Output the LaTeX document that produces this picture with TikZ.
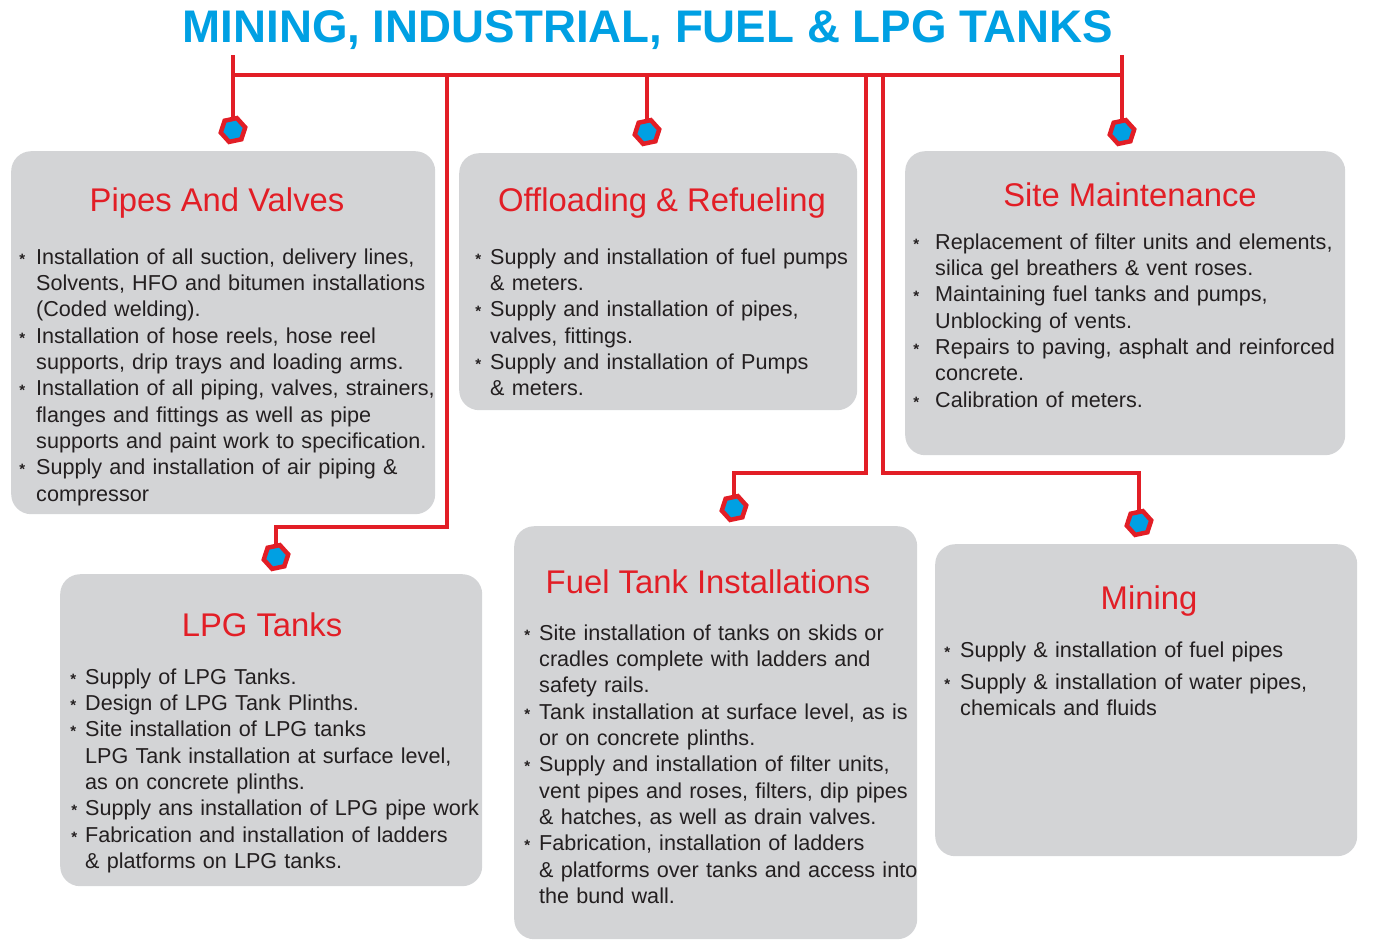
\documentclass[tikz,border=0pt]{standalone}
\usepackage{fontspec}
\setmainfont{Liberation Sans}
\usetikzlibrary{shapes.geometric}
\definecolor{tred}{RGB}{226,30,38}
\definecolor{tblue}{RGB}{0,160,227}
\definecolor{boxgray}{RGB}{211,212,214}
\definecolor{txt}{RGB}{35,31,32}
\newcommand\bul{{\fontsize{15}{15}\selectfont\bfseries *}}
\newcommand\itm[2]{\par\noindent\llap{\bul\hspace{#1}}#2}
\begin{document}
\begin{tikzpicture}[x=1pt,y=-1pt,
  card/.style={fill=boxgray, draw=none, rounded corners=20pt, inner sep=0pt, anchor=north west},
  hd/.style={text=tred, font=\fontsize{32.8}{38}\selectfont, anchor=base, inner sep=0pt},
  body/.style={text=txt, font=\fontsize{21.6}{26.3}\selectfont, text width=480pt, align=left, anchor=base west, inner sep=0pt},
  wire/.style={draw=tred, line width=4pt},
  hexmark/.style={regular polygon, regular polygon sides=6, minimum size=25pt, inner sep=0pt, outer sep=0pt, draw=tred, line width=4.5pt, fill=tblue, rotate=12}]
\useasboundingbox (0,0) rectangle (1377,940);

% title
\node[font=\fontsize{45.7}{50}\selectfont\bfseries, text=tblue, anchor=base, inner sep=0pt] (title) at (648,42) {MINING, INDUSTRIAL, FUEL \& LPG TANKS};

% cards
\node[card, minimum width=424pt, minimum height=363pt] (b1) at (11,151) {};
\node[card, minimum width=398pt, minimum height=257pt] (b2) at (459,153) {};
\node[card, minimum width=440pt, minimum height=304pt] (b3) at (905,151) {};
\node[card, minimum width=422pt, minimum height=312pt] (b4) at (60,574) {};
\node[card, minimum width=403pt, minimum height=413pt] (b5) at (514,526) {};
\node[card, minimum width=422pt, minimum height=312pt] (b6) at (935,544) {};

% connectors
\coordinate (l1) at (233,55);
\coordinate (r1) at (1122,55);
\coordinate (busL) at (233,75);
\coordinate (busR) at (1122,75);
\coordinate (v2) at (647,75);
\coordinate (v4) at (447,75);
\coordinate (v5) at (866,75);
\coordinate (v6) at (883,75);
\coordinate (m1) at (233,130);
\coordinate (m2) at (647,132);
\coordinate (m3) at (1122,132);
\coordinate (m4) at (276,557);
\coordinate (m5) at (734,508);
\coordinate (m6) at (1139,523);
\draw[wire] (busL) -- (busR);
\draw[wire] (l1) -- (m1);
\draw[wire] (r1) -- (m3);
\draw[wire] (v2) -- (m2);
\draw[wire] (v4) |- (276,527) -- (m4);
\draw[wire] (v5) |- (734,473) -- (m5);
\draw[wire] (v6) |- (1139,473) -- (m6);
\node[hexmark] (hm1) at (m1) {};
\node[hexmark] (hm2) at (m2) {};
\node[hexmark] (hm3) at (m3) {};
\node[hexmark] (hm4) at (m4) {};
\node[hexmark] (hm5) at (m5) {};
\node[hexmark] (hm6) at (m6) {};

% headings
\node[hd] (h1) at (217,211) {Pipes And Valves};
\node[hd] (h2) at (662,211) {Offloading \& Refueling};
\node[hd] (h3) at (1130,206) {Site Maintenance};
\node[hd] (h4) at (262,636) {LPG Tanks};
\node[hd] (h5) at (708,593) {Fuel Tank Installations};
\node[hd] (h6) at (1149,609) {Mining};

% bodies
\node[body] (t1) at (36,238) {%
\itm{11pt}{Installation of all suction, delivery lines,\newline Solvents, HFO and bitumen installations\newline (Coded welding).}%
\itm{11pt}{Installation of hose reels, hose reel\newline supports, drip trays and loading arms.}%
\itm{11pt}{Installation of all piping, valves, strainers,\newline flanges and fittings as well as pipe\newline supports and paint work to specification.}%
\itm{11pt}{Supply and installation of air piping \&\newline compressor}};

\node[body] (t2) at (490,238) {%
\itm{9pt}{Supply and installation of fuel pumps\newline \& meters.}%
\itm{9pt}{Supply and installation of pipes,\newline valves, fittings.}%
\itm{9pt}{Supply and installation of Pumps\newline \& meters.}};

\node[body] (t3) at (935,223) {%
\itm{16pt}{Replacement of filter units and elements,\newline silica gel breathers \& vent roses.}%
\itm{16pt}{Maintaining fuel tanks and pumps,\newline Unblocking of vents.}%
\itm{16pt}{Repairs to paving, asphalt and reinforced\newline concrete.}%
\itm{16pt}{Calibration of meters.}};

\node[body] (t4) at (85,658) {%
\itm{9pt}{Supply of LPG Tanks.}%
\itm{9pt}{Design of LPG Tank Plinths.}%
\itm{9pt}{Site installation of LPG tanks\newline LPG Tank installation at surface level,\newline as on concrete plinths.}%
\itm{8pt}{Supply ans installation of LPG pipe work}%
\itm{8pt}{Fabrication and installation of ladders\newline \& platforms on LPG tanks.}};

\node[body] (t5) at (539,614) {%
\itm{9pt}{Site installation of tanks on skids or\newline cradles complete with ladders and\newline safety rails.}%
\itm{9pt}{Tank installation at surface level, as is\newline or on concrete plinths.}%
\itm{9pt}{Supply and installation of filter units,\newline vent pipes and roses, filters, dip pipes\newline \& hatches, as well as drain valves.}%
\itm{9pt}{Fabrication, installation of ladders\newline \& platforms over tanks and access into\newline the bund wall.}};

\node[body] (t6) at (960,631) {%
\itm{10pt}{Supply \& installation of fuel pipes}\par\vspace{5.7pt}%
\itm{10pt}{Supply \& installation of water pipes,\newline chemicals and fluids}};
\end{tikzpicture}
\end{document}
